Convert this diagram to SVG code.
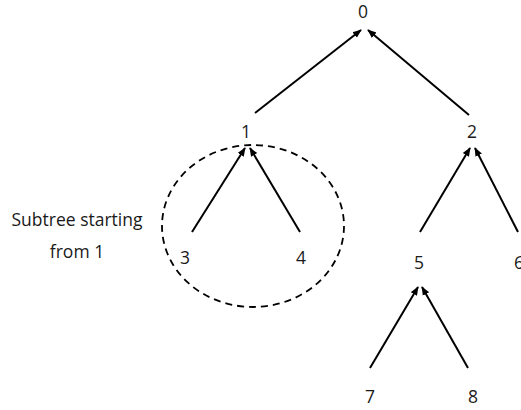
<svg xmlns="http://www.w3.org/2000/svg" width="521" height="410" viewBox="0 0 521 410">
<style>
.lbl{font-family:"Open Sans","Noto Sans",sans-serif;font-size:17.5px;fill:#1a1a1a;text-anchor:middle}
.edge{stroke:#000;stroke-width:2;fill:none;marker-end:url(#ah)}
</style>
<defs>
<marker id="ah" viewBox="0 0 10 10" refX="9" refY="5" markerWidth="4.5" markerHeight="4.5" orient="auto" markerUnits="strokeWidth">
<path d="M0,1 L10,5 L0,9 z" fill="#000"/>
</marker>
</defs>
<rect width="521" height="410" fill="#fff"/>
<g id="connectors">
<line class="edge" x1="255" y1="113" x2="361" y2="30"/>
<line class="edge" x1="469" y1="115" x2="368" y2="30"/>
<line class="edge" x1="192" y1="232" x2="245" y2="148"/>
<line class="edge" x1="300" y1="232" x2="250" y2="148"/>
<line class="edge" x1="420" y1="232" x2="470" y2="148"/>
<line class="edge" x1="518" y1="232" x2="475" y2="148"/>
<line class="edge" x1="370" y1="368" x2="418" y2="287"/>
<line class="edge" x1="468" y1="368" x2="422" y2="287"/>
</g>
<g id="subtree-outline">
<ellipse cx="253" cy="226" rx="91" ry="81" fill="none" stroke="#000" stroke-width="1.8" stroke-dasharray="7,5"/>
</g>
<g id="node0"><text class="lbl" x="363" y="18">0</text></g>
<g id="node1"><text class="lbl" x="246" y="138">1</text></g>
<g id="node2"><text class="lbl" x="472" y="138">2</text></g>
<g id="node3"><text class="lbl" x="185" y="264">3</text></g>
<g id="node4"><text class="lbl" x="301" y="264">4</text></g>
<g id="node5"><text class="lbl" x="419" y="269">5</text></g>
<g id="node6"><text class="lbl" x="519" y="269">6</text></g>
<g id="node7"><text class="lbl" x="370" y="403">7</text></g>
<g id="node8"><text class="lbl" x="473" y="403">8</text></g>
<g id="subtree-label">
<text class="lbl" x="77" y="226">Subtree starting</text>
<text class="lbl" x="77" y="258">from 1</text>
</g>
</svg>
